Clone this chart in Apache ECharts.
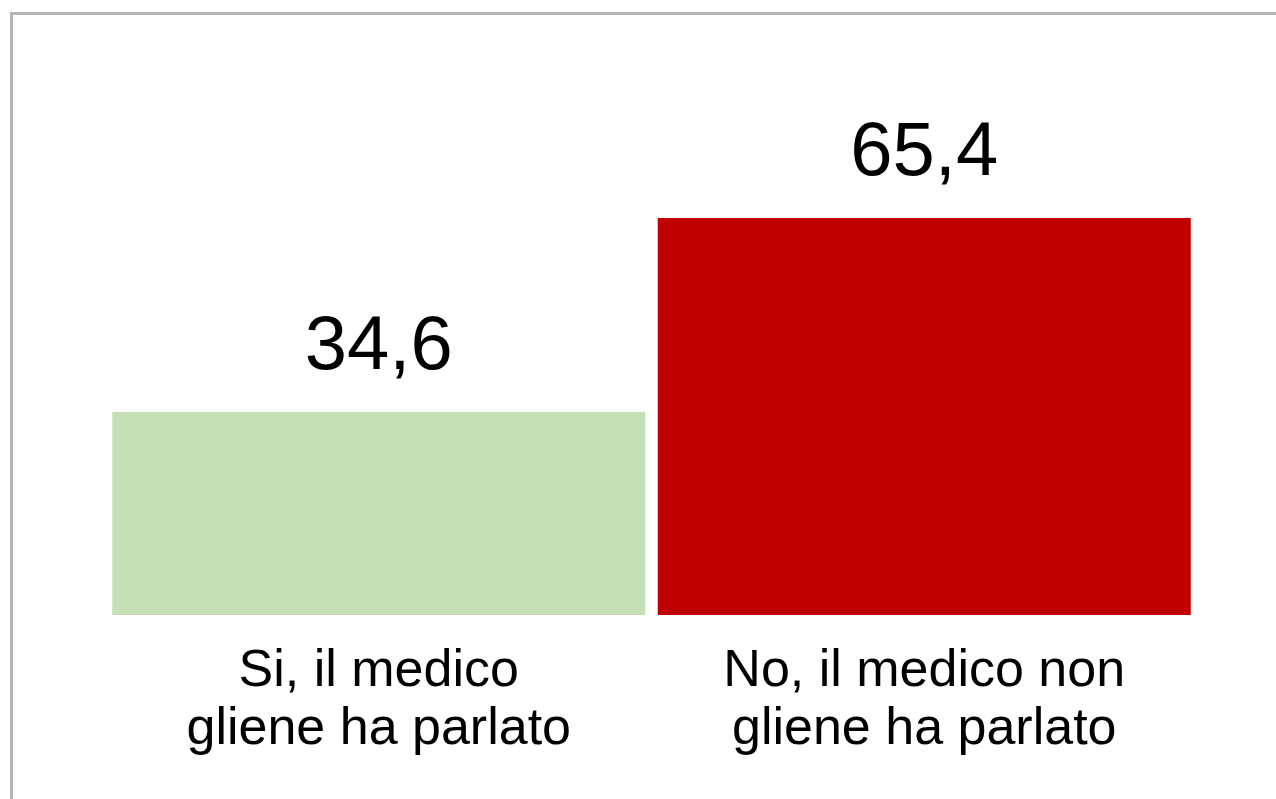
<!DOCTYPE html>
<html>
<head>
<meta charset="utf-8">
<script src="https://cdn.jsdelivr.net/npm/echarts@6/dist/echarts.min.js"></script>
<style>
html,body{margin:0;padding:0;background:#fff;}
#chart{width:1276px;height:799px;}
</style>
</head>
<body>
<div id="chart"></div>
<script>
var categories = ['Si, il medico\ngliene ha parlato', 'No, il medico non\ngliene ha parlato'];
var values = [34.6, 65.4];
var valueLabels = ['34,6', '65,4'];
var barColors = ['#c5e0b4', '#c00000'];

var chart = echarts.init(document.getElementById('chart'));
chart.setOption({
  animation: false,
  backgroundColor: '#ffffff',
  graphic: [{
    type: 'rect',
    shape: { x: 11.5, y: 13.5, width: 1400, height: 900 },
    style: { fill: 'none', stroke: '#b4b4b4', lineWidth: 3 },
    silent: true
  }],
  grid: { left: 106, width: 1091, top: 189, height: 426 },
  xAxis: {
    type: 'category',
    data: categories,
    axisLine: { show: false },
    axisTick: { show: false },
    axisLabel: {
      margin: 28,
      fontFamily: 'Liberation Sans',
      fontSize: 52,
      lineHeight: 58,
      color: '#000000',
      interval: 0
    }
  },
  yAxis: {
    type: 'value',
    min: 2.4,
    max: 70,
    show: false,
    splitLine: { show: false }
  },
  series: [{
    type: 'bar',
    barWidth: 533,
    data: values.map(function (v, i) {
      return { value: v, itemStyle: { color: barColors[i] } };
    }),
    label: {
      show: true,
      position: 'top',
      distance: 26,
      fontFamily: 'Liberation Sans',
      fontSize: 76,
      lineHeight: 76,
      color: '#000000',
      formatter: function (p) { return valueLabels[p.dataIndex]; }
    }
  }]
});
</script>
</body>
</html>
